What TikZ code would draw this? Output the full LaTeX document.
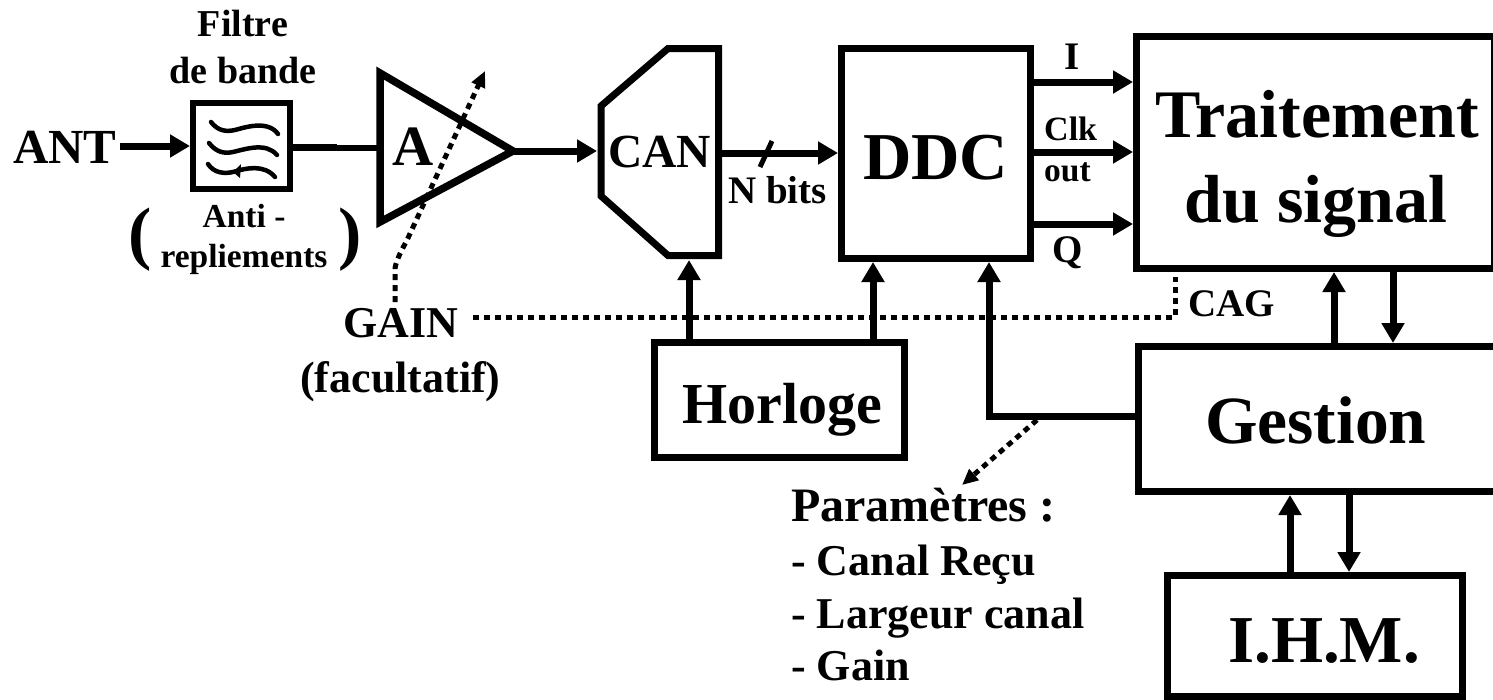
\documentclass[tikz,border=0pt]{standalone}
\usepackage{fontspec}
\setmainfont{Liberation Serif}[BoldFont={Liberation Serif Bold}]
\usetikzlibrary{arrows.meta}
\newcommand{\fs}[1]{\fontsize{#1}{#1}\selectfont\bfseries}
\tikzset{
  box/.style={draw=black,line width=7pt,fill=white,rectangle,inner sep=0pt,anchor=north west},
  lab/.style={inner sep=0pt,align=center,text=black,anchor=base west},
  labc/.style={inner sep=0pt,align=center,text=black,anchor=base},
  conn/.style={line width=7pt,-{Triangle[length=20pt,width=22pt]}},
  wire/.style={line width=7pt},
  dots/.style={line width=5pt,dash pattern=on 6pt off 5pt},
  dothead/.style={-{Triangle[length=16pt,width=14pt]}},
  wave/.style={line width=4.5pt,line cap=round}
}
\begin{document}
\begin{tikzpicture}[x=1pt,y=-1pt]
\useasboundingbox (0,0) rectangle (1493,699);
\begin{scope}
\clip (0,0) rectangle (1493,699);
% blocks
\node[box,line width=6pt,minimum width=97pt,minimum height=86pt] (filt) at (190,100) {};
\node[box,minimum width=189pt,minimum height=210pt] (ddc) at (838,45) {};
\node[box,minimum width=358pt,minimum height=232pt] (ts) at (1133,33) {};
\node[box,minimum width=250pt,minimum height=115pt] (horl) at (651,339) {};
\node[box,minimum width=358pt,minimum height=145pt] (gest) at (1135,343) {};
\node[box,minimum width=295pt,minimum height=121pt] (ihm) at (1164,572) {};
\coordinate (ampT) at (380,73);
\coordinate (ampB) at (380,222);
\coordinate (ampO) at (513,151);
\draw[line width=7.5pt,miter limit=10] (ampT) -- (ampO) -- (ampB) -- cycle;
\coordinate (canA) at (718.5,48.5);
\coordinate (canB) at (668,48.5);
\coordinate (canC) at (601,106);
\coordinate (canD) at (601,196);
\coordinate (canE) at (668,255.5);
\coordinate (canF) at (718.5,255.5);
\draw[line width=7pt] (canA) -- (canB) -- (canC) -- (canD) -- (canE) -- (canF) -- cycle;
% filter symbol
\draw[wave] (211,122) .. controls (218,131) and (226,132) .. (235,130) .. controls (246,127) and (268,120) .. (278,134);
\draw[wave] (209,143) .. controls (216,152) and (224,154) .. (233,152) .. controls (246,149) and (266,142) .. (277,155);
\draw[wave] (208,164) .. controls (214,173) and (224,174) .. (233,172) .. controls (246,168) and (264,164) .. (275,177);
\fill (233,172) -- (241,164) -- (240,178) -- cycle;
% labels
\node[labc,font=\fs{68}] (t1) at (1317,137) {Traitement};
\node[labc,font=\fs{68}] (t2) at (1316,222) {du signal};
\node[lab,font=\fs{67}] (ddct) at (863,179) {DDC};
\node[lab,font=\fs{67.5}] (gt) at (1205,443) {Gestion};
\node[lab,font=\fs{58}] (ht) at (682,423) {Horloge};
\node[lab,font=\fs{67}] (it) at (1228,662) {I.H.M.};
\node[lab,font=\fs{47.5}] (cant) at (608,167) {CAN};
\node[lab,font=\fs{57}] (at) at (392,165) {A};
\node[lab,font=\fs{49}] (ant) at (13,163) {ANT};
\node[labc,font=\fs{38}] (f1) at (243,36) {Filtre};
\node[labc,font=\fs{38}] (f2) at (243,83) {de bande};
\node[labc,font=\fs{33.5}] (a1) at (244,227) {Anti -};
\node[labc,font=\fs{33.5}] (a2) at (244,267) {repliements};
\node[labc,font=\fs{70}] (pl) at (140,256) {(};
\node[labc,font=\fs{70}] (pr) at (350,256) {)};
\node[lab,font=\fs{39}] (nb) at (728,203) {N bits};
\node[labc,font=\fs{39}] (il) at (1072,69) {I};
\node[lab,font=\fs{34}] (clk) at (1044,140) {Clk};
\node[lab,font=\fs{33.5}] (out) at (1044,181) {out};
\node[labc,font=\fs{39}] (ql) at (1068,262) {Q};
\node[lab,font=\fs{39}] (cag) at (1188,316) {CAG};
\node[lab,font=\fs{44}] (gain) at (343,337) {GAIN};
\node[lab,font=\fs{44}] (fac) at (300,392) {(facultatif)};
\node[lab,font=\fs{48}] (par) at (791,521) {Paramètres :};
\node[lab,font=\fs{44}] (p1) at (791,575) {- Canal Reçu};
\node[lab,font=\fs{44}] (p2) at (791,628) {- Largeur canal};
\node[lab,font=\fs{44}] (p3) at (791,680) {- Gain};
% dotted
\coordinate (j1) at (1037,420);
\coordinate (p0) at (962,485);
\draw[dots,dothead] (j1) -- (p0);
\coordinate (g0) at (395,302);
\draw[dots,dothead] (g0) -- (395,268) .. controls (397,258) and (402,250) .. (408,238) -- (485,71);
\coordinate (d0) at (473,317);
\coordinate (d1) at (1175,317);
\coordinate (d2) at (1175,277);
\draw[dots] (d0) -- (d1) -- (d2);
% connectors
\coordinate (yi) at (0,82);
\coordinate (yc) at (0,152);
\coordinate (yq) at (0,224);
\coordinate (yn) at (0,153);
\coordinate (ya) at (0,147);
\coordinate (yb) at (0,148);
\draw[conn] (ant.east |- filt.west) ++(3pt,0) -- (filt.west);
\draw[wire] (filt.east |- ya) -- (337,147);
\draw[line width=6pt] (332,148) -- (ampT |- yb);
\draw[conn] (ampO) -- (597,151);
\draw[conn] (722,153) -- (ddc.west |- yn);
\draw[line width=5pt] (772,141) -- (760,167);
\draw[conn] (ddc.east |- yi) -- (ts.west |- yi);
\draw[conn] (ddc.east |- yc) -- (ts.west |- yc);
\draw[conn] (ddc.east |- yq) -- (ts.west |- yq);
\coordinate (x1) at (689,0);
\coordinate (x2) at (873,0);
\coordinate (x3) at (1334,0);
\coordinate (x4) at (1393,0);
\coordinate (canS) at (689,260);
\draw[conn] (horl.north -| x1) -- (canS);
\draw[conn] (horl.north -| x2) -- (ddc.south -| x2);
\draw[conn] (gest.north -| x3) -- (ts.south -| x3);
\draw[conn] (ts.south -| x4) -- (gest.north -| x4);
\coordinate (x5) at (1290,0);
\coordinate (x6) at (1349,0);
\draw[conn] (ihm.north -| x5) -- (gest.south -| x5);
\draw[conn] (gest.south -| x6) -- (ihm.north -| x6);
\coordinate (x7) at (989,0);
\coordinate (y7) at (0,416);
\draw[conn] (gest.west |- y7) -- (x7 |- y7) -- (ddc.south -| x7);
\end{scope}
\end{tikzpicture}
\end{document}
